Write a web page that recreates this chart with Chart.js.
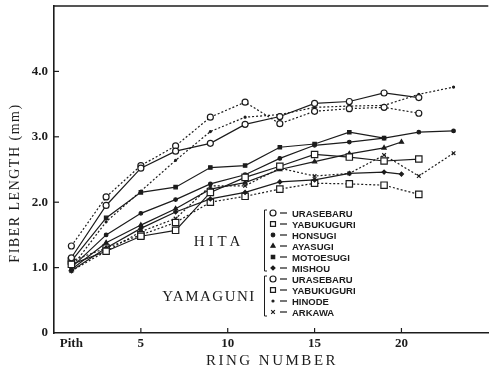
<!DOCTYPE html>
<html>
<head>
<meta charset="utf-8">
<script src="https://cdn.jsdelivr.net/npm/chart.js@4"></script>
<style>
  body { margin: 0; background: #fff; }
</style>
</head>
<body>
<canvas id="myChart" width="494" height="377"></canvas>
<script>
// ring positions
var rings = [1, 3, 5, 7, 9, 11, 13, 15, 17, 19, 21, 23];
var ringsTo20 = [1, 3, 5, 7, 9, 11, 13, 15, 17, 19, 20];

// HITA (solid lines)
var hitaUrasebaru = [1.15, 1.95, 2.52, 2.78, 2.9, 3.19, 3.31, 3.51, 3.54, 3.67, 3.6];
var hitaYabukuguri = [1.05, 1.25, 1.48, 1.57, 2.15, 2.38, 2.55, 2.73, 2.69, 2.63, 2.66];
var hitaHonsugi = [1.0, 1.5, 1.83, 2.04, 2.28, 2.42, 2.67, 2.87, 2.92, 2.98, 3.07, 3.09];
var hitaAyasugi = [0.97, 1.38, 1.65, 1.9, 2.2, 2.3, 2.5, 2.62, 2.74, 2.83, 2.92];
var hitaMotoesugi = [1.1, 1.76, 2.15, 2.23, 2.53, 2.56, 2.84, 2.89, 3.07, 2.98];
var hitaMishou = [0.95, 1.3, 1.6, 1.85, 2.05, 2.15, 2.31, 2.34, 2.44, 2.46, 2.43];

// YAMAGUNI (dotted lines)
var yamaUrasebaru = [1.33, 2.08, 2.56, 2.86, 3.3, 3.53, 3.2, 3.39, 3.43, 3.45, 3.36];
var yamaYabukuguri = [1.1, 1.3, 1.5, 1.69, 2.0, 2.09, 2.2, 2.29, 2.28, 2.26, 2.12];
var yamaHinode = [1.0, 1.7, 2.17, 2.64, 3.08, 3.3, 3.34, 3.45, 3.47, 3.48, 3.65, 3.76];
var yamaArkawa = [0.95, 1.25, 1.55, 1.75, 2.25, 2.25, 2.52, 2.4, 2.44, 2.72, 2.4, 2.75];

var xTicks = [1, 5, 10, 15, 20];
var yTicks = [0, 1, 2, 3, 4];

function pts(xs, vals) {
  return vals.map(function (v, i) { return { x: xs[i], y: v }; });
}

var ink = "#1c1c1c";
var dotted = [2, 2];

function ds(label, xs, vals, style, radius, filled, dash) {
  return {
    label: label,
    data: pts(xs, vals),
    borderColor: ink,
    borderWidth: 1.2,
    borderDash: dash ? dotted : [],
    pointStyle: style,
    pointRadius: radius,
    pointBorderWidth: 1.2,
    pointBorderColor: ink,
    pointBackgroundColor: filled ? ink : "#fff",
    tension: 0,
    fill: false
  };
}

var datasets = [
  ds("URASEBARU", rings, hitaUrasebaru, "circle", 3, false, false),
  ds("YABUKUGURI", rings, hitaYabukuguri, "rect", 4.5, false, false),
  ds("HONSUGI", rings, hitaHonsugi, "circle", 1.8, true, false),
  ds("AYASUGI", ringsTo20, hitaAyasugi, "triangle", 2.4, true, false),
  ds("MOTOESUGI", rings, hitaMotoesugi, "rect", 2.4, true, false),
  ds("MISHOU", ringsTo20, hitaMishou, "rectRot", 2, true, false),
  ds("URASEBARU", rings, yamaUrasebaru, "circle", 3, false, true),
  ds("YABUKUGURI", rings, yamaYabukuguri, "rect", 4.5, false, true),
  ds("HINODE", rings, yamaHinode, "circle", 1, true, true),
  ds("ARKAWA", rings, yamaArkawa, "crossRot", 2.6, true, true)
];

// frame, inward ticks, titles and the bracketed key
var decorations = {
  id: "decorations",
  afterDraw: function (chart) {
    var ctx = chart.ctx;
    var area = chart.chartArea;
    var xs = chart.scales.x, ys = chart.scales.y;
    ctx.save();
    ctx.strokeStyle = ink;
    ctx.lineWidth = 1.6;
    ctx.beginPath();
    ctx.moveTo(area.left, area.top);
    ctx.lineTo(area.right, area.top);
    ctx.stroke();

    ctx.lineWidth = 1.2;
    [5, 10, 15, 20].forEach(function (t) {
      var px = xs.getPixelForValue(t);
      ctx.beginPath();
      ctx.moveTo(px, area.bottom);
      ctx.lineTo(px, area.bottom - 5);
      ctx.stroke();
    });
    [1, 2, 3, 4].forEach(function (t) {
      var py = ys.getPixelForValue(t);
      ctx.beginPath();
      ctx.moveTo(area.left, py);
      ctx.lineTo(area.left + 5, py);
      ctx.stroke();
    });

    // axis titles
    ctx.fillStyle = ink;
    ctx.font = "15px 'Liberation Serif'";
    ctx.letterSpacing = "2.5px";
    ctx.textAlign = "center";
    ctx.textBaseline = "middle";
    ctx.fillText("RING NUMBER", 272, 361);
    ctx.save();
    ctx.translate(15, 183);
    ctx.rotate(-Math.PI / 2);
    ctx.font = "14px 'Liberation Serif'";
    ctx.letterSpacing = "1.5px";
    ctx.fillText("FIBER LENGTH (mm)", 0, 0);
    ctx.restore();

    ctx.font = "15px 'Liberation Serif'";
    ctx.letterSpacing = "4px";
    ctx.fillText("HITA", 219, 242);
    ctx.letterSpacing = "1.5px";
    ctx.fillText("YAMAGUNI", 209, 297);
    ctx.letterSpacing = "0px";

    // key
    ctx.textAlign = "left";
    ctx.font = "bold 9.5px 'Liberation Sans'";
    var y0 = 213, step = 11;
    datasets.forEach(function (d, i) {
      var y = y0 + i * step;
      ctx.fillStyle = d.pointBackgroundColor;
      ctx.strokeStyle = ink;
      ctx.lineWidth = 1.2;
      Chart.helpers.drawPoint(ctx, {
        pointStyle: d.pointStyle,
        radius: Math.min(d.pointRadius, 3.5),
        borderWidth: 1.2,
        rotation: 0
      }, 273, y);
      ctx.beginPath();
      ctx.moveTo(280, y);
      ctx.lineTo(287, y);
      ctx.stroke();
      ctx.fillStyle = ink;
      ctx.fillText(d.label, 292, y + 1);
    });

    ctx.lineWidth = 1;
    function bracket(yTop, yBot) {
      ctx.beginPath();
      ctx.moveTo(267, yTop);
      ctx.lineTo(264.5, yTop);
      ctx.lineTo(264.5, yBot);
      ctx.lineTo(267, yBot);
      ctx.stroke();
    }
    bracket(210, 271);
    bracket(276, 316);
    ctx.restore();
  }
};

new Chart("myChart", {
  type: "line",
  data: { datasets: datasets },
  options: {
    responsive: false,
    animation: false,
    devicePixelRatio: 1,
    layout: { padding: { top: 6, right: 0, left: 0, bottom: 0 } },
    plugins: { legend: { display: false }, tooltip: { enabled: false } },
    scales: {
      x: {
        type: "linear",
        min: 0,
        max: 25,
        afterBuildTicks: function (scale) {
          scale.ticks = xTicks.map(function (v) { return { value: v }; });
        },
        afterFit: function (scale) {
          scale.height = 44;
          scale.paddingLeft = 0;
          scale.paddingRight = 0;
        },
        ticks: {
          color: ink,
          padding: 3,
          maxRotation: 0,
          font: { family: "'Liberation Serif'", size: 13, weight: "bold" },
          callback: function (v) { return v === 1 ? "Pith" : v; }
        },
        grid: { display: true, drawOnChartArea: false, drawTicks: false },
        border: { display: true, color: ink, width: 1.6 }
      },
      y: {
        type: "linear",
        min: 0,
        max: 5,
        afterBuildTicks: function (scale) {
          scale.ticks = yTicks.map(function (v) { return { value: v }; });
        },
        afterFit: function (scale) {
          scale.width = 54;
          scale.paddingTop = 0;
          scale.paddingBottom = 0;
        },
        ticks: {
          color: ink,
          padding: 6,
          font: { family: "'Liberation Serif'", size: 13, weight: "bold" },
          callback: function (v) { return v === 0 ? "0" : v.toFixed(1); }
        },
        grid: { display: true, drawOnChartArea: false, drawTicks: false },
        border: { display: true, color: ink, width: 1.6 }
      }
    }
  },
  plugins: [decorations]
});
</script>
</body>
</html>
